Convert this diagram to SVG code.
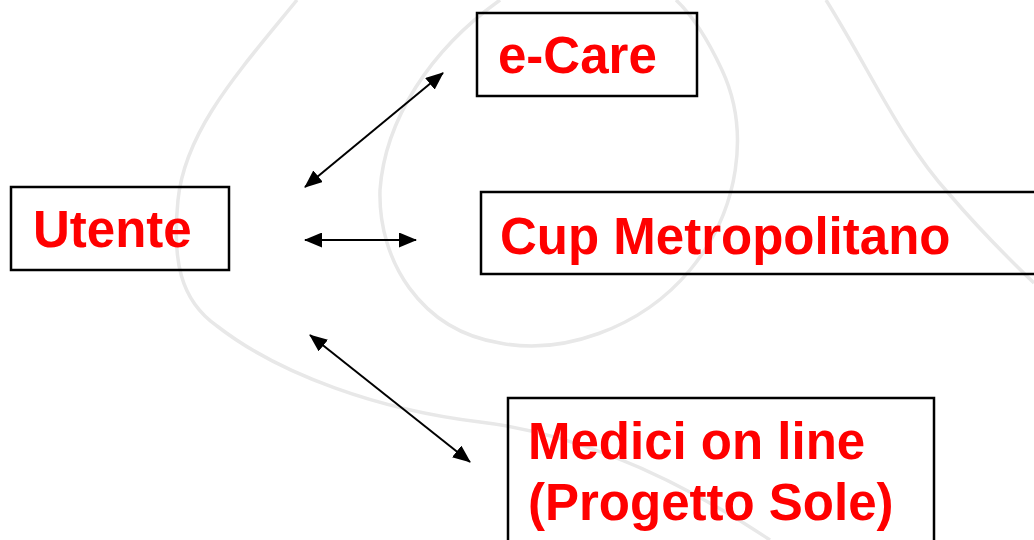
<svg xmlns="http://www.w3.org/2000/svg" width="1034" height="540" viewBox="0 0 1034 540">
<style>
.bg{fill:none;stroke:#e8e8e8;stroke-width:3.5}
.box{fill:none;stroke:#000000;stroke-width:2.5}
.lbl{font-family:"Liberation Sans",Arial,sans-serif;font-weight:bold;font-size:51px;fill:#ff0000}
.conn{stroke:#000000;stroke-width:2;fill:none;marker-start:url(#ah);marker-end:url(#ah)}
</style>
<defs>
<marker id="ah" viewBox="0 0 18 15" refX="17" refY="7.5" markerWidth="18" markerHeight="15" markerUnits="userSpaceOnUse" orient="auto-start-reverse">
<path d="M0,0 L18,7.5 L0,15 z" fill="#000000"/>
</marker>
</defs>
<rect width="1034" height="540" fill="#ffffff"/>
<g id="background">
<path class="bg" d="M297,0 C240,70 185,130 178,200 C172,260 180,300 217,326 C280,375 380,410 480,422 C580,434 680,480 770,540"/>
<path class="bg" d="M500,0 C430,50 385,120 380,190 C378,260 420,330 500,343 C560,355 640,330 690,270 C740,210 750,130 722,70 C708,40 692,15 676,0"/>
<path class="bg" d="M826,0 C870,70 900,140 950,195 C980,230 1010,260 1034,283"/>
</g>
<g id="connectors">
<line class="conn" x1="305" y1="187" x2="443" y2="73"/>
<line class="conn" x1="305" y1="240" x2="416" y2="240"/>
<line class="conn" x1="310" y1="335" x2="470" y2="462"/>
</g>
<g id="utente">
<rect class="box" x="11" y="187" width="218" height="83"/>
<text class="lbl" x="33" y="247">Utente</text>
</g>
<g id="ecare">
<rect class="box" x="477" y="13" width="220" height="83"/>
<text class="lbl" x="498" y="73">e-Care</text>
</g>
<g id="cup">
<rect class="box" x="481" y="192" width="560" height="82"/>
<text class="lbl" x="500" y="254">Cup Metropolitano</text>
</g>
<g id="medici">
<rect class="box" x="508" y="398" width="426" height="150"/>
<text class="lbl" x="528" y="459">Medici on line</text>
<text class="lbl" x="528" y="520">(Progetto Sole)</text>
</g>
</svg>
